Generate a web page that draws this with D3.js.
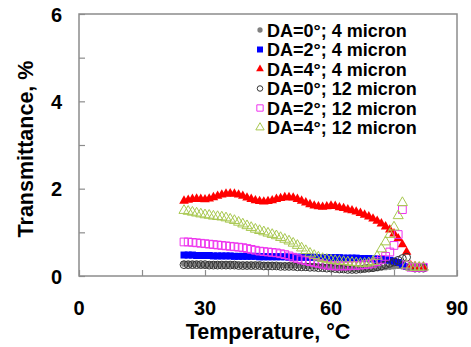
<!DOCTYPE html>
<html>
<head>
<meta charset="utf-8">
<script src="https://cdn.jsdelivr.net/npm/d3@7"></script>
<style>
  body { margin: 0; background: #fff; }
  text { font-family: "Liberation Sans", Arial, sans-serif; font-weight: bold; fill: #000; }
</style>
</head>
<body>
<script>
// temperatures (deg C) shared by every series
var temps = [25,26,27,28,29,30,31,32,33,34,35,36,37,38,39,40,41,42,43,44,
             45,46,47,48,49,50,51,52,53,54,55,56,57,58,59,60,61,62,63,64,
             65,66,67,68,69,70,71,72,73,74,75,76,77,78,79,80,81,82];

// transmittance, %
var da0_4 = [0.28,0.27,0.27,0.27,0.26,0.26,0.26,0.26,0.26,0.26,
             0.26,0.26,0.25,0.25,0.25,0.25,0.25,0.25,0.25,0.25,
             0.25,0.25,0.24,0.24,0.24,0.24,0.24,0.24,0.23,0.23,
             0.23,0.23,0.22,0.22,0.21,0.20,0.19,0.18,0.17,0.17,
             0.16,0.16,0.16,0.16,0.17,0.17,0.18,0.19,0.20,0.21,
             0.22,0.23,0.22,0.20,0.18,0.18,0.18,0.18];
var da2_4 = [0.48,0.48,0.48,0.47,0.47,0.47,0.47,0.46,0.46,0.46,
             0.46,0.46,0.45,0.45,0.45,0.45,0.45,0.45,0.44,0.44,
             0.44,0.44,0.44,0.44,0.44,0.43,0.43,0.43,0.43,0.43,
             0.43,0.43,0.42,0.42,0.42,0.42,0.42,0.42,0.41,0.41,
             0.41,0.41,0.40,0.40,0.40,0.39,0.39,0.38,0.37,0.36,
             0.34,0.31,0.27,0.22,0.20,0.20,0.20,0.20];
var da4_4 = [1.72,1.74,1.76,1.77,1.76,1.75,1.77,1.80,1.83,1.86,
             1.88,1.89,1.88,1.86,1.83,1.79,1.76,1.73,1.71,1.70,
             1.71,1.73,1.76,1.78,1.80,1.80,1.79,1.76,1.72,1.68,
             1.64,1.61,1.59,1.58,1.59,1.61,1.60,1.57,1.55,1.52,
             1.50,1.47,1.44,1.40,1.36,1.31,1.26,1.20,1.13,1.06,
             0.97,0.86,0.72,0.55,0.24,0.22,0.20,0.20];
var da0_12 = [0.26,0.26,0.26,0.26,0.26,0.26,0.25,0.25,0.25,0.25,
              0.25,0.25,0.25,0.24,0.24,0.24,0.24,0.24,0.24,0.23,
              0.23,0.23,0.23,0.22,0.22,0.22,0.22,0.21,0.21,0.21,
              0.20,0.20,0.19,0.19,0.18,0.18,0.17,0.16,0.16,0.15,
              0.15,0.15,0.16,0.17,0.18,0.19,0.21,0.23,0.26,0.29,
              0.32,0.36,0.40,0.43,0.22,0.18,0.18,0.18];
var da2_12 = [0.78,0.78,0.77,0.76,0.75,0.74,0.73,0.72,0.71,0.70,
              0.69,0.68,0.67,0.66,0.65,0.63,0.61,0.59,0.57,0.56,
              0.55,0.54,0.53,0.51,0.49,0.46,0.43,0.40,0.37,0.35,
              0.33,0.31,0.29,0.27,0.25,0.24,0.23,0.23,0.23,0.23,
              0.24,0.24,0.25,0.26,0.27,0.29,0.33,0.38,0.45,0.55,
              0.70,0.95,1.52,0.25,0.20,0.20,0.20,0.20];
var da4_12 = [1.50,1.48,1.46,1.44,1.42,1.40,1.39,1.37,1.36,1.35,
              1.33,1.30,1.27,1.23,1.19,1.15,1.11,1.07,1.04,1.01,
              0.98,0.95,0.92,0.88,0.84,0.80,0.75,0.70,0.64,0.58,
              0.52,0.47,0.43,0.40,0.38,0.36,0.35,0.34,0.33,0.32,
              0.31,0.30,0.29,0.29,0.30,0.33,0.45,0.62,0.78,0.95,
              1.12,1.38,1.68,0.25,0.20,0.20,0.20,0.20];

var seriesNames = ["DA=0°; 4 micron", "DA=2°; 4 micron", "DA=4°; 4 micron",
                   "DA=0°; 12 micron", "DA=2°; 12 micron", "DA=4°; 12 micron"];

var xTicks = [0, 15, 30, 45, 60, 75, 90];
var xLabels = [0, 30, 60, 90];
var yTicks = [0, 1, 2, 3, 4, 5, 6];
var yLabels = [0, 2, 4, 6];

var outerWidth = 471, outerHeight = 347;
var margin = {top: 14, right: 14, bottom: 71, left: 79};
var width = outerWidth - margin.left - margin.right,
    height = outerHeight - margin.top - margin.bottom;

// marker styles, same order as the series
var styles = [
  {values: da0_4,  shape: d3.symbolCircle,   size: 30, legendSize: 22, fill: "#808080", stroke: "none"},
  {values: da2_4,  shape: d3.symbolSquare,   size: 49, legendSize: 36, fill: "#0000ff", stroke: "none"},
  {values: da4_4,  shape: d3.symbolTriangle, size: 40, legendSize: 26, fill: "#ff0000", stroke: "none"},
  {values: da0_12, shape: d3.symbolCircle,   size: 48, legendSize: 24, fill: "none", stroke: "#333333"},
  {values: da2_12, shape: d3.symbolSquare,   size: 60, legendSize: 40, fill: "none", stroke: "#ee33ee"},
  {values: da4_12, shape: d3.symbolTriangle, size: 44, legendSize: 30, fill: "none", stroke: "#a8c850"}
];

var svg = d3.select("body").append("svg")
    .attr("width", outerWidth)
    .attr("height", outerHeight);

var g = svg.append("g")
    .attr("transform", "translate(" + margin.left + "," + margin.top + ")");

var xScale = d3.scaleLinear().domain([0, 90]).range([0, width]);
var yScale = d3.scaleLinear().domain([0, 6]).range([height, 0]);

// frame
g.append("rect")
    .attr("x", 0).attr("y", 0)
    .attr("width", width).attr("height", height)
    .attr("fill", "none")
    .attr("stroke", "#8c8c8c")
    .attr("stroke-width", 1.5);

// axes with inward ticks
var xAxis = d3.axisTop(xScale).tickValues(xTicks).tickSize(6).tickFormat("");
var yAxis = d3.axisRight(yScale).tickValues(yTicks).tickSize(6).tickFormat("");

g.append("g")
    .attr("class", "x axis")
    .attr("transform", "translate(0," + height + ")")
    .call(xAxis);
g.append("g")
    .attr("class", "y axis")
    .call(yAxis);
g.selectAll(".axis path").remove();
g.selectAll(".axis line").attr("stroke", "#8c8c8c").attr("stroke-width", 1.2);

// tick labels
g.selectAll(".xlabel")
    .data(xLabels)
    .enter().append("text")
    .attr("class", "xlabel")
    .attr("x", function(d) { return xScale(d); })
    .attr("y", height + 39)
    .attr("text-anchor", "middle")
    .style("font-size", "20px")
    .text(function(d) { return d; });

g.selectAll(".ylabel")
    .data(yLabels)
    .enter().append("text")
    .attr("class", "ylabel")
    .attr("x", -17)
    .attr("y", function(d) { return yScale(d) + 7.5; })
    .attr("text-anchor", "end")
    .style("font-size", "20px")
    .text(function(d) { return d; });

// axis titles
svg.append("text")
    .attr("x", margin.left + width / 2)
    .attr("y", 339)
    .attr("text-anchor", "middle")
    .style("font-size", "21.5px")
    .text("Temperature, °C");

svg.append("text")
    .attr("transform", "translate(33,149) rotate(-90)")
    .attr("text-anchor", "middle")
    .style("font-size", "21.5px")
    .text("Transmittance, %");

// data markers
styles.forEach(function(s) {
  g.append("g").selectAll("path")
      .data(s.values)
      .enter().append("path")
      .attr("transform", function(d, i) {
        return "translate(" + xScale(temps[i]) + "," + yScale(d) + ")";
      })
      .attr("d", d3.symbol().type(s.shape).size(s.size))
      .attr("fill", s.fill)
      .attr("stroke", s.stroke)
      .attr("stroke-width", 1);
});

// legend
var legend = svg.selectAll(".legend")
    .data(styles)
    .enter().append("g")
    .attr("class", "legend")
    .attr("transform", function(d, i) {
      return "translate(260," + (30 + i * 19.5) + ")";
    });

legend.append("path")
    .attr("d", function(d) { return d3.symbol().type(d.shape).size(d.legendSize)(); })
    .attr("fill", function(d) { return d.fill; })
    .attr("stroke", function(d) { return d.stroke; })
    .attr("stroke-width", 1);

legend.append("text")
    .attr("x", 7)
    .attr("y", 6.5)
    .style("font-size", "18px")
    .text(function(d, i) { return seriesNames[i]; });
</script>
</body>
</html>
